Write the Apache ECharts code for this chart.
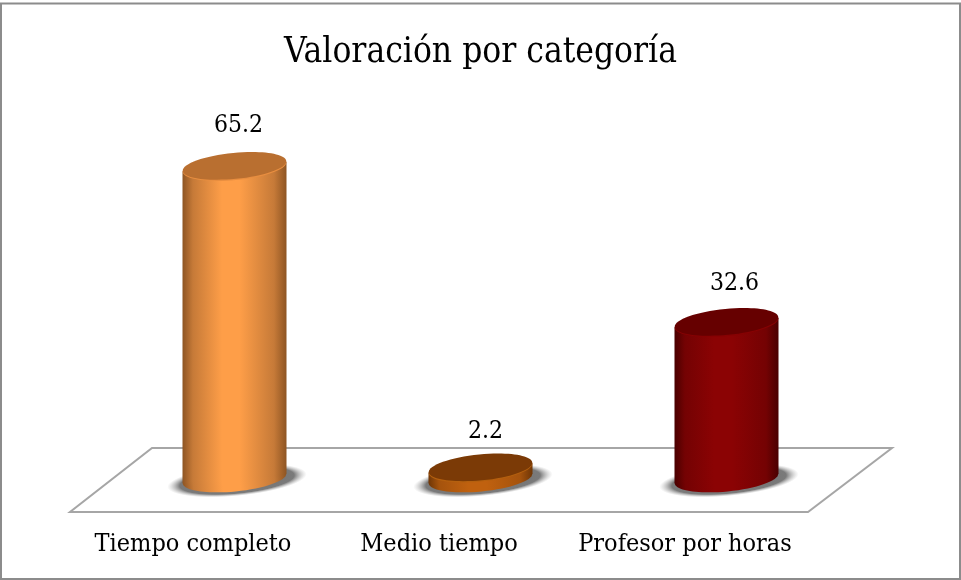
<!DOCTYPE html>
<html><head><meta charset="utf-8">
<style>html,body{margin:0;padding:0;background:#fff}#c{width:961px;height:580px}</style>
<script src="https://cdn.jsdelivr.net/npm/echarts@6/dist/echarts.min.js"></script>
</head><body><div id="c"></div>
<script>
const titleText = 'Valoración por categoría';
const categories = ['Tiempo completo', 'Medio tiempo', 'Profesor por horas'];
const values = [65.2, 2.2, 32.6];
const bodyMid = ['#FE9E48', '#C0610F', '#8B0304'];
const bodySide = ['#C67A38', '#A5530D', '#740203'];
const bodyEdge = ['#8E5523', '#703606', '#4A0000'];
const topFace = ['#B96F30', '#7B3A06', '#660000'];
const rimColor = ['#E88E40', '#B4600F', '#860203'];
const labelNudge = [[4, -41], [5, -36], [8, -39]];

const FONT = '"DejaVu Serif Condensed","DejaVu Serif",serif';
const DX = 41.5, DY = -33.5, RX = 52, RY = 13, TILT = 5.5 * Math.PI / 180, SKEW = 4.8;

function grad(i) {
  return { type: 'linear', x: 0, y: 0, x2: 1, y2: 0, colorStops: [
    { offset: 0, color: bodyEdge[i] }, { offset: 0.1, color: bodySide[i] },
    { offset: 0.38, color: bodyMid[i] }, { offset: 0.55, color: bodyMid[i] },
    { offset: 0.88, color: bodySide[i] }, { offset: 1, color: bodyEdge[i] } ] };
}
function cyl(params, api) {
  const i = params.dataIndex, v = api.value(1);
  const base = api.coord([i, 0]), top = api.coord([i, v]);
  const cx = base[0] + DX, yb = base[1] + DY, yt = top[1] + DY;
  const ell = (x, y, rx, ry, style, z) => ({ type: 'ellipse', x, y, rotation: TILT,
    shape: { cx: 0, cy: 0, rx, ry }, style, z2: z });
  return { type: 'group', children: [
    { type: 'circle', x: cx + 2.5, y: yb + 2, rotation: TILT, scaleX: 70 / 15.5, shape: { cx: 0, cy: 0, r: 15.5 }, z2: 1,
      style: { fill: { type: 'radial', x: 0.5, y: 0.5, r: 0.5, colorStops: [
        { offset: 0, color: 'rgba(105,105,105,1)' }, { offset: 0.82, color: 'rgba(115,115,115,0.95)' },
        { offset: 1, color: 'rgba(180,180,180,0)' } ] } } },
    ell(cx, yb, RX, RY, { fill: grad(i) }, 2),
    { type: 'polygon', shape: { points: [[cx - RX, yt + SKEW], [cx + RX, yt - SKEW], [cx + RX, yb - SKEW], [cx - RX, yb + SKEW]] },
      style: { fill: grad(i) }, z2: 3 },
    ell(cx, yt + 0.6, RX, RY, { fill: rimColor[i] }, 4),
    ell(cx, yt - 0.6, RX, RY, { fill: topFace[i] }, 5),
    { type: 'text', x: cx + labelNudge[i][0], y: yt + labelNudge[i][1], z2: 6, style: { text: String(v), fill: '#000', font: '24.5px ' + FONT, textAlign: 'center', textVerticalAlign: 'middle' } }
  ] };
}
const chart = echarts.init(document.getElementById('c'));
chart.setOption({
  animation: false,
  backgroundColor: '#fff',
  title: { text: titleText, left: 'center', top: 30, textStyle: { fontFamily: FONT, fontWeight: 'normal', fontSize: 35, color: '#000' } },
  grid: { left: 70, width: 738, top: 129.2, height: 382.8 },
  xAxis: { type: 'category', data: categories, axisLine: { show: false }, axisTick: { show: false },
    axisLabel: { interval: 0, margin: 20, fontFamily: FONT, fontSize: 25, color: '#000' } },
  yAxis: { type: 'value', min: 0, max: 80, show: false, splitLine: { show: false } },
  graphic: [
    { type: 'rect', x: 1, y: 3.5, shape: { width: 959, height: 575.5 }, style: { fill: 'none', stroke: '#8C8C8C', lineWidth: 2 }, z: -2 },
    { type: 'polygon', shape: { points: [[70, 512], [808, 512], [892, 448], [152, 448]] }, style: { fill: 'none', stroke: '#A6A6A6', lineWidth: 2 }, z: -1 }
  ],
  series: [{ type: 'custom', renderItem: cyl, data: values.map((v, i) => [i, v]), encode: { x: 0, y: 1 }, clip: false }]
});
</script></body></html>
